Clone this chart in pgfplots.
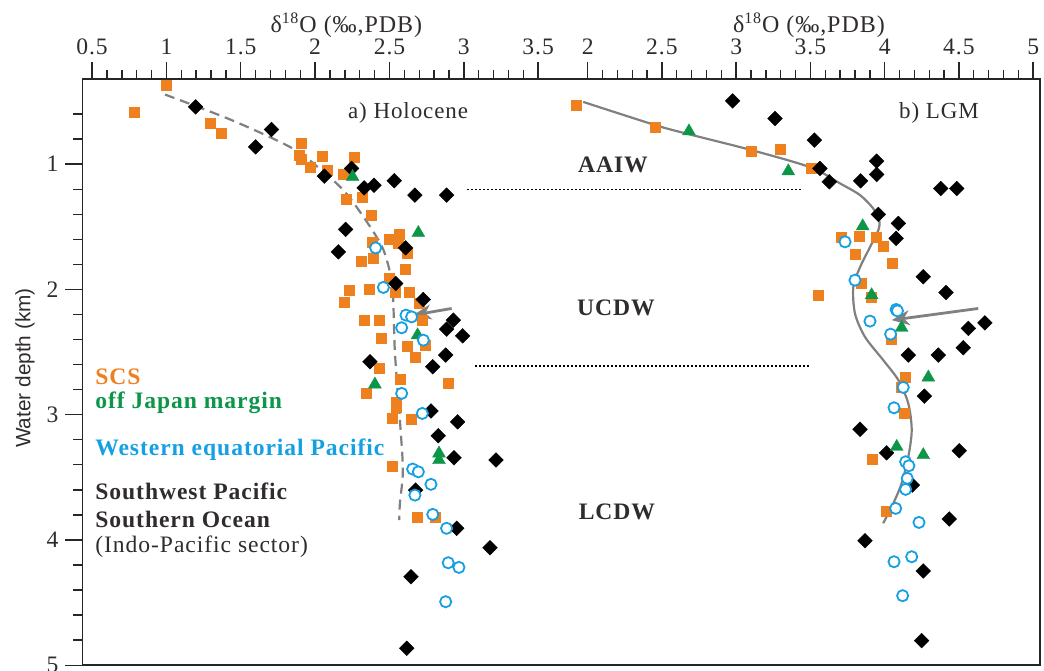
\documentclass[border=0pt]{standalone}
\usepackage{fontspec}
\setmainfont{Liberation Serif}[LetterSpace=4]
\newfontfamily\sansf{Liberation Sans}
\usepackage{pgfplots}
\pgfplotsset{compat=1.18}
\usetikzlibrary{arrows.meta}
\definecolor{scs}{RGB}{238,128,30}
\definecolor{jap}{RGB}{12,150,72}
\definecolor{wep}{RGB}{22,160,228}
\definecolor{dtxt}{RGB}{48,44,44}
\definecolor{lgray}{RGB}{128,128,128}

\pgfplotsset{
  common/.style={
    scale only axis, width=478.75pt, height=293.1pt,
    at={(0,0)}, anchor=south west,
    y dir=reverse, ymin=0.32, ymax=5,
    clip=false,
    tick align=outside,
    major tick length=8.5pt, minor tick length=4.5pt,
    every tick/.style={line width=0.7pt, color=black!85},
    tick label style={font=\fontsize{11.8}{13}\selectfont, text=dtxt},
    /pgf/number format/assume math mode=true,
  },
  sq/.style={only marks, mark=square*, mark size=2.5pt, mark options={fill=scs, draw=scs, line width=0.2pt}},
  dia/.style={only marks, mark=square*, mark size=2.6pt, mark options={rotate=45, fill=black, draw=black, line width=0.2pt}},
  tri/.style={only marks, mark=triangle*, mark size=3.7pt, mark options={fill=jap, draw=jap, line width=0.2pt}},
  cir/.style={only marks, mark=*, mark size=2.8pt, mark options={fill=white, draw=wep, line width=0.9pt}},
}

\begin{document}
\begin{tikzpicture}
% ---------------- left panel (Holocene) ----------------
\begin{axis}[common,
  xmin=0.4354, xmax=6.875,
  xtick={0.5,1,1.5,2,2.5,3,3.5},
  minor xtick={0.6,0.7,0.8,0.9,1.1,1.2,1.3,1.4,1.6,1.7,1.8,1.9,2.1,2.2,2.3,2.4,2.6,2.7,2.8,2.9,3.1,3.2,3.3,3.4},
  xtick pos=right, xticklabel pos=right,
  ytick={1,2,3,4,5},
  minor ytick={0.6,0.8,1.2,1.4,1.6,1.8,2.2,2.4,2.6,2.8,3.2,3.4,3.6,3.8,4.2,4.4,4.6,4.8},
  ytick pos=left,
  axis line style={line width=0.75pt, black!85},
]
% fitted curve
\addplot[lgray, line width=1.1pt, dash pattern=on 5pt off 3pt, smooth, tension=0.5] coordinates {
(0.99,0.444) (1.44,0.649) (1.85,0.875) (2.055,1.061) (2.21,1.234) (2.37,1.500)
(2.46,1.686) (2.515,1.926) (2.526,2.112) (2.537,2.511) (2.57,3.043) (2.59,3.442)
(2.57,3.708) (2.566,3.841)};
% SCS
\addplot[sq] coordinates {
(1.000,0.370) (0.782,0.587) (1.297,0.670) (1.365,0.755) (1.903,0.830) (1.894,0.928)
(1.903,0.963) (2.048,0.934) (2.263,0.942) (1.965,1.022) (2.078,1.048) (2.189,1.082)
(2.207,1.277) (2.319,1.261) (2.380,1.409) (2.387,1.625) (2.499,1.601) (2.562,1.561)
(2.559,1.633) (2.622,1.708) (2.313,1.774) (2.391,1.753) (2.604,1.840) (2.499,1.912)
(2.230,2.006) (2.364,2.000) (2.537,2.019) (2.633,2.019) (2.194,2.099) (2.700,2.112)
(2.330,2.245) (2.431,2.245) (2.723,2.245) (2.447,2.386) (2.616,2.453) (2.739,2.445)
(2.676,2.538) (2.430,2.630) (2.575,2.718) (2.896,2.745) (2.342,2.825) (2.544,2.897)
(2.548,2.937) (2.515,3.030) (2.649,3.038) (2.515,3.410) (2.687,3.815) (2.806,3.820)};
% Southwest Pacific / Southern Ocean
\addplot[dia] coordinates {
(1.196,0.543) (1.707,0.723) (1.600,0.862) (2.245,1.034) (2.062,1.096) (2.329,1.189)
(2.396,1.168) (2.532,1.133) (2.671,1.247) (2.884,1.247) (2.205,1.521) (2.156,1.700)
(2.609,1.668) (2.542,1.952) (2.727,2.080) (2.929,2.245) (2.884,2.317) (2.992,2.370)
(2.878,2.524) (2.791,2.618) (2.369,2.578) (2.779,2.971) (2.958,3.057) (2.828,3.168)
(2.934,3.344) (3.216,3.362) (2.676,3.602) (2.952,3.907) (3.176,4.062) (2.645,4.294)
(2.616,4.865)};
% off Japan margin
\addplot[tri] coordinates {
(2.252,1.101) (2.694,1.548) (2.689,2.365) (2.402,2.758) (2.833,3.309) (2.833,3.362)};
% Western equatorial Pacific
\addplot[cir] coordinates {
(2.407,1.668) (2.459,1.984) (2.611,2.205) (2.649,2.219) (2.582,2.306) (2.728,2.405)
(2.582,2.830) (2.721,2.990) (2.656,3.434) (2.694,3.456) (2.779,3.556) (2.671,3.642)
(2.791,3.796) (2.884,3.907) (2.895,4.182) (2.967,4.219) (2.878,4.493)};
% arrow
\draw[lgray, line width=1.4pt, -{Stealth[length=9pt,width=7.5pt]}] (axis cs:2.918,2.152) -- (axis cs:2.66,2.205);
% titles and labels
\node[font=\fontsize{12}{13}\selectfont, text=dtxt, yshift=27pt] at (axis cs:2.21,0.32) {δ\textsuperscript{18}O (‰,PDB)};
\node[font=\fontsize{11.5}{13}\selectfont, text=dtxt] at (axis cs:2.625,0.593) {a) Holocene};
% legend text
\begin{scope}[every node/.style={anchor=west, font=\fontsize{11.8}{13}\selectfont\bfseries, inner sep=0pt}]
\node[text=scs] at (axis cs:0.519,2.698) {SCS};
\node[text=jap] at (axis cs:0.519,2.907) {off Japan margin};
\node[text=wep] at (axis cs:0.519,3.282) {Western equatorial Pacific};
\node[text=dtxt] at (axis cs:0.519,3.615) {Southwest Pacific};
\node[text=dtxt] at (axis cs:0.519,3.833) {Southern Ocean};
\node[text=dtxt, font=\fontsize{11.8}{13}\selectfont] at (axis cs:0.519,4.054) {(Indo-Pacific sector)};
\end{scope}
\end{axis}

% ---------------- right panel (LGM) ----------------
\begin{axis}[common,
  xmin=-1.402, xmax=5.046,
  xtick={2,2.5,3,3.5,4,4.5,5},
  minor xtick={2.1,2.2,2.3,2.4,2.6,2.7,2.8,2.9,3.1,3.2,3.3,3.4,3.6,3.7,3.8,3.9,4.1,4.2,4.3,4.4,4.6,4.7,4.8,4.9},
  xtick pos=right, xticklabel pos=right,
  ytick=\empty,
  axis line style={draw=none},
]
\addplot[lgray, line width=1.1pt, smooth, tension=0.5] coordinates {
(1.97,0.503) (2.458,0.689) (2.682,0.761) (3.104,0.888) (3.502,1.026) (3.70,1.154)
(3.834,1.247) (3.923,1.354) (3.964,1.447) (3.957,1.527) (3.902,1.660) (3.835,1.820)
(3.789,1.979) (3.80,2.192) (3.867,2.378) (3.99,2.564) (4.092,2.724) (4.159,2.910)
(4.182,3.123) (4.159,3.336) (4.114,3.548) (4.058,3.708) (3.99,3.867)};
\addplot[sq] coordinates {
(1.926,0.529) (2.458,0.702) (3.104,0.894) (3.295,0.883) (3.502,1.034) (3.710,1.580)
(3.829,1.575) (3.946,1.580) (3.990,1.652) (3.800,1.721) (4.051,1.788) (3.845,1.952)
(3.553,2.045) (3.912,2.059) (4.047,2.399) (4.141,2.698) (4.114,2.777) (4.130,2.990)
(3.919,3.357) (4.013,3.769)};
\addplot[dia] coordinates {
(2.976,0.495) (3.261,0.635) (3.526,0.808) (3.564,1.034) (3.627,1.141) (3.946,0.976)
(3.946,1.082) (3.838,1.133) (4.377,1.194) (4.485,1.194) (3.957,1.401) (4.092,1.473)
(4.077,1.593) (4.260,1.899) (4.413,2.024) (4.675,2.267) (4.563,2.311) (4.529,2.466)
(4.361,2.524) (4.159,2.524) (4.267,2.852) (3.834,3.117) (4.013,3.304) (4.502,3.288)
(4.186,3.562) (4.435,3.833) (3.867,4.006) (4.260,4.248) (4.249,4.804)};
\addplot[tri] coordinates {
(2.682,0.737) (3.351,1.056) (3.852,1.495) (3.912,2.045) (4.114,2.306) (4.294,2.702)
(4.081,3.256) (4.260,3.322)};
\addplot[cir] coordinates {
(3.733,1.620) (3.800,1.926) (4.077,2.160) (4.086,2.171) (3.901,2.253) (4.040,2.357)
(4.125,2.782) (4.063,2.945) (4.141,3.376) (4.163,3.408) (4.152,3.508) (4.141,3.596)
(4.074,3.748) (4.231,3.860) (4.182,4.134) (4.063,4.174) (4.121,4.445)};
\draw[lgray, line width=1.4pt, -{Stealth[length=9pt,width=7.5pt]}] (axis cs:4.63,2.152) -- (axis cs:4.047,2.245);
% water-mass boundaries
\draw[black, line width=0.9pt, dash pattern=on 0.9pt off 1.1pt] (axis cs:1.187,1.202) -- (axis cs:3.443,1.202);
\draw[black, line width=0.9pt, dash pattern=on 0.9pt off 1.1pt] (axis cs:1.241,2.61) -- (axis cs:3.498,2.61);
\begin{scope}[every node/.style={font=\fontsize{11.8}{13}\selectfont\bfseries, text=dtxt}]
\node at (axis cs:2.17,1.008) {AAIW};
\node at (axis cs:2.19,2.149) {UCDW};
\node at (axis cs:2.197,3.777) {LCDW};
\end{scope}
\node[font=\fontsize{12}{13}\selectfont, text=dtxt, yshift=27pt] at (axis cs:3.49,0.32) {δ\textsuperscript{18}O (‰,PDB)};
\node[font=\fontsize{11.5}{13}\selectfont, text=dtxt] at (axis cs:4.366,0.593) {b) LGM};
\end{axis}

\node[rotate=90, font=\sansf\fontsize{10.4}{12}\selectfont, text=dtxt] at (-28.75pt,148.6pt) {Water depth (km)};

\pgfresetboundingbox
\path[use as bounding box] (-41.25pt,-2.4pt) rectangle (480.75pt,332.6pt);
\end{tikzpicture}
\end{document}
